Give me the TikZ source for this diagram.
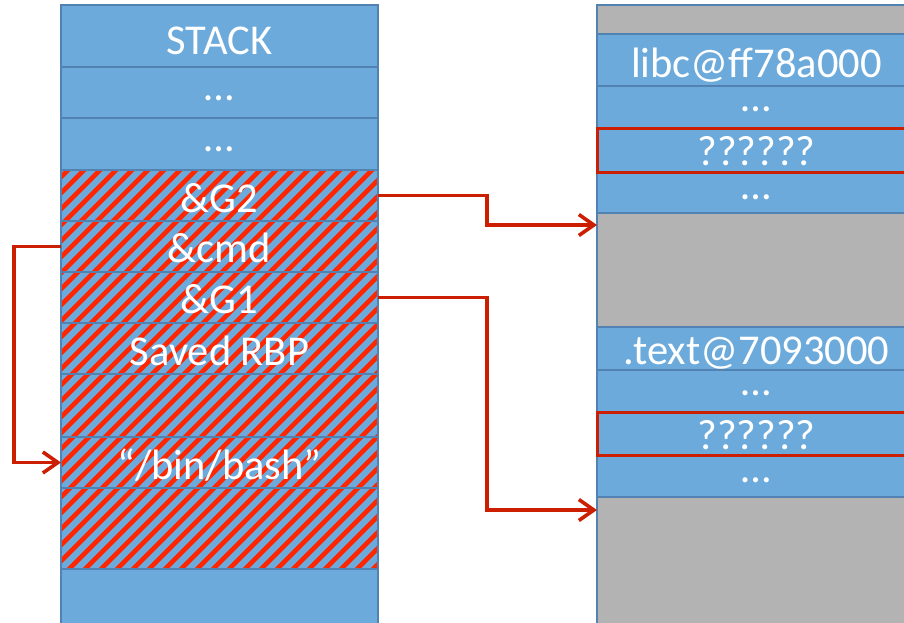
\documentclass[tikz,border=0pt]{standalone}
\usepackage{fontspec}
\setmainfont{Carlito}
\usetikzlibrary{arrows.meta}
\definecolor{cellblue}{RGB}{108,170,220}
\definecolor{cellborder}{RGB}{82,130,178}
\definecolor{cellgray}{RGB}{179,179,179}
\definecolor{hatchred}{RGB}{255,38,0}
\definecolor{linkred}{RGB}{204,30,0}
\begin{document}
\begin{tikzpicture}[x=1pt,y=-1pt,
  cell/.style={draw=cellborder,line width=2.2pt,fill=cellblue,rectangle,inner sep=0pt,outer sep=0pt,anchor=north west,minimum width=317pt},
  rcell/.style={cell,minimum width=318pt},
  qcell/.style={rcell,draw=linkred,line width=3pt},
  lbl/.style={text=white,font=\fontsize{42.5}{42.5}\selectfont,anchor=base,inner sep=0pt},
  link/.style={draw=linkred,line width=3.6pt,-{Straight Barb[length=15pt,width=21pt]}},
  qframe/.style={draw=linkred,line width=3pt},
]
\useasboundingbox (0,0) rectangle (904,622);
\clip (0,0) rectangle (904,622);
% ---------- left column: stack ----------
\node[cell,minimum height=62pt] (stack) at (61,5) {};
\node[cell,minimum height=51pt] (d1) at (61,67) {};
\node[cell,minimum height=52pt] (d2) at (61,118) {};
\node[cell,minimum height=51pt] (g2) at (61,170) {};
\node[cell,minimum height=51pt] (cmd) at (61,221) {};
\node[cell,minimum height=51pt] (g1) at (61,272) {};
\node[cell,minimum height=51pt] (rbp) at (61,323) {};
\node[cell,minimum height=63pt] (h1) at (61,374) {};
\node[cell,minimum height=51pt] (bash) at (61,437) {};
\node[cell,minimum height=81pt] (h2) at (61,488) {};
\node[cell,minimum height=80pt] (bot) at (61,569) {};
\begin{scope}
  \clip (61,170) rectangle (378,569);
  \foreach \a in {-490,-474,...,410}
    \draw[hatchred,line width=4.6pt] (\a,600) -- ++(450,-450);
\end{scope}
\foreach \n in {g2,cmd,g1,rbp,h1,bash,h2}
  \draw[cellborder,line width=2.2pt] (\n.south west) rectangle (\n.north east);
\node[lbl] (tstack) at (219.5,54.3) {STACK};
\node[lbl] (td1) at (219.5,100) {…};
\node[lbl] (td2) at (219.5,151) {…};
\node[lbl] (tg2) at (219.5,212.7) {\&G2};
\node[lbl] (tcmd) at (219.5,262.7) {\&cmd};
\node[lbl] (tg1) at (219.5,313.3) {\&G1};
\node[lbl] (trbp) at (219.5,365.7) {Saved RBP};
\node[lbl] (tbash) at (219.5,479) {“/bin/bash”};
% ---------- right column: memory ----------
\node[rcell,fill=cellgray,minimum height=640pt] (mem) at (597,5) {};
\node[rcell,minimum height=52pt] (libc) at (597,34) {};
\node[lbl] (tlibc) at (756.5,77.3) {libc@ff78a000};
\node[rcell,minimum height=42pt] (rd1) at (597,86) {};
\node[lbl] (trd1) at (756.5,111.7) {…};
\node[qcell,minimum height=44pt] (rq1) at (597,128) {};
\node[lbl] (trq1) at (756.5,165) {??????};
\node[rcell,minimum height=41pt] (rd2) at (597,172) {};
\node[lbl] (trd2) at (756.5,199) {…};
\draw[qframe] (rq1.north west) rectangle (rq1.south east);
\node[rcell,minimum height=43pt] (text) at (597,327) {};
\node[lbl] (ttext) at (756.5,364) {.text@7093000};
\node[rcell,minimum height=42pt] (rd3) at (597,370) {};
\node[lbl] (trd3) at (756.5,395) {…};
\node[qcell,minimum height=43pt] (rq2) at (597,412) {};
\node[lbl] (trq2) at (756.5,449) {??????};
\node[rcell,minimum height=42pt] (rd4) at (597,455) {};
\node[lbl] (trd4) at (756.5,482.7) {…};
\draw[qframe] (rq2.north west) rectangle (rq2.south east);
% ---------- connectors ----------
\coordinate (t1) at (597,225);
\coordinate (t2) at (597,510);
\draw[link] (g2.east) -- ++(109,0) |- (t1);
\draw[link] (g1.east) -- ++(109,0) |- (t2);
\draw[link] (cmd.west) -- ++(-47,0) |- (bash.west);
\end{tikzpicture}
\end{document}
